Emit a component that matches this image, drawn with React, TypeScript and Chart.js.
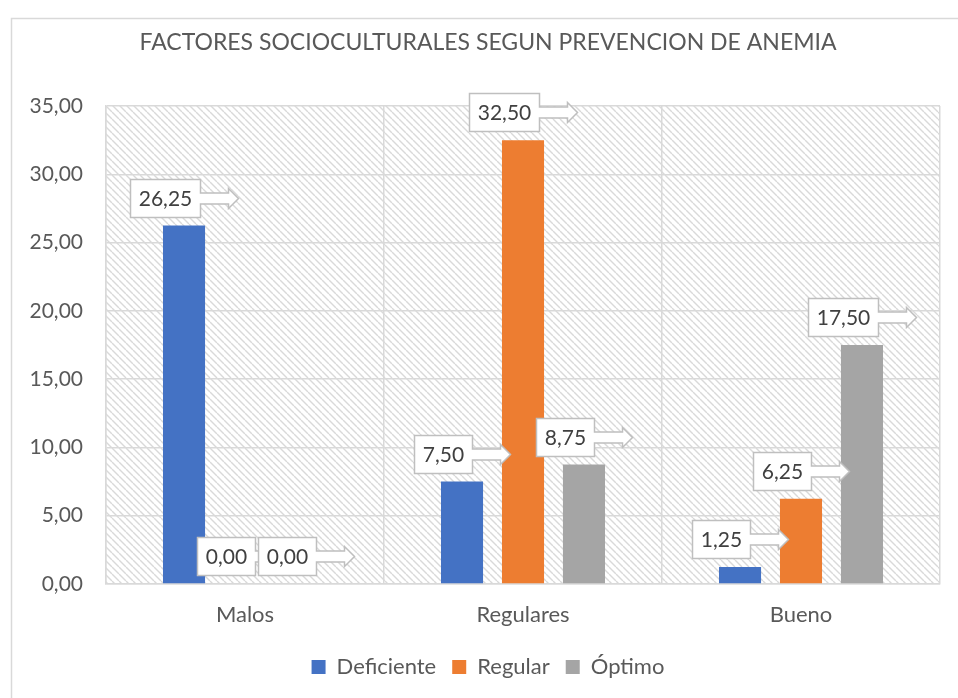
import React, { useEffect, useRef } from "react";
import { Chart, registerables } from "chart.js";

Chart.register(...registerables);

const categories = ["Malos", "Regulares", "Bueno"];
const seriesNames = ["Deficiente", "Regular", "Óptimo"];
const deficiente = [26.25, 7.5, 1.25];
const regular = [0, 32.5, 6.25];
const optimo = [0, 8.75, 17.5];
const seriesColors = ["#4472C4", "#ED7D31", "#A5A5A5"];
const yMin = 0;
const yMax = 35;
const yStep = 5;
const titleText = "FACTORES SOCIOCULTURALES SEGUN PREVENCION DE ANEMIA";

const FONT = "Lato, 'Noto Sans', sans-serif";
const TEXT_COLOR = "#595959";
const GRID_COLOR = "#d9d9d9";

const fmt = (v: number) => Number(v).toFixed(2).replace(".", ",");

function makePattern(ctx: CanvasRenderingContext2D) {
  const s = 7;
  const c = document.createElement("canvas");
  c.width = s;
  c.height = s;
  const p = c.getContext("2d")!;
  p.fillStyle = "#ffffff";
  p.fillRect(0, 0, s, s);
  p.strokeStyle = "#d9d9d9";
  p.lineWidth = 1.4;
  for (const k of [-s, 0, s]) {
    p.beginPath();
    p.moveTo(k, 0);
    p.lineTo(k + s, s);
    p.stroke();
  }
  return ctx.createPattern(c, "repeat");
}

const backgroundPlugin = {
  id: "excelBackground",
  beforeDraw(chart: any) {
    const { ctx, chartArea } = chart;
    ctx.save();
    ctx.fillStyle = "#ffffff";
    ctx.fillRect(0, 0, chart.width, chart.height);
    // outer chart border (left and top visible)
    ctx.strokeStyle = GRID_COLOR;
    ctx.lineWidth = 1.5;
    ctx.beginPath();
    ctx.moveTo(11.5, chart.height + 2);
    ctx.lineTo(11.5, 18.5);
    ctx.lineTo(chart.width + 2, 18.5);
    ctx.stroke();
    const pat = makePattern(ctx);
    if (pat) {
      ctx.fillStyle = pat;
      ctx.fillRect(
        chartArea.left,
        chartArea.top,
        chartArea.right - chartArea.left,
        chartArea.bottom - chartArea.top
      );
    }
    ctx.restore();
  },
};

const calloutPlugin = {
  id: "calloutLabels",
  afterDatasetsDraw(chart: any) {
    const { ctx } = chart;
    ctx.save();
    ctx.font = `21px ${FONT}`;
    const nCat = chart.data.labels.length;
    for (let i = 0; i < nCat; i++) {
      chart.data.datasets.forEach((ds: any, d: number) => {
        const meta = chart.getDatasetMeta(d);
        const el = meta.data[i];
        if (!el) return;
        const text = fmt(ds.data[i]);
        const tw = ctx.measureText(text).width;
        const bw = Math.round(tw + 17);
        const bh = 38;
        const shaftLen = 28;
        const headLen = 10;
        const arrowLen = shaftLen + headLen;
        const left = Math.round(el.x - (bw + arrowLen) / 2) + 0.5;
        const bottom = Math.round(el.y - 9) + 0.5;
        const top = bottom - bh;
        const cy = top + bh / 2;
        const right = left + bw;
        ctx.beginPath();
        ctx.moveTo(left, top);
        ctx.lineTo(right, top);
        ctx.lineTo(right, cy - 5.5);
        ctx.lineTo(right + shaftLen, cy - 5.5);
        ctx.lineTo(right + shaftLen, cy - 10);
        ctx.lineTo(right + arrowLen, cy);
        ctx.lineTo(right + shaftLen, cy + 10);
        ctx.lineTo(right + shaftLen, cy + 5.5);
        ctx.lineTo(right, cy + 5.5);
        ctx.lineTo(right, bottom);
        ctx.lineTo(left, bottom);
        ctx.closePath();
        ctx.fillStyle = "#ffffff";
        ctx.fill();
        ctx.strokeStyle = "#bfbfbf";
        ctx.lineWidth = 1.5;
        ctx.stroke();
        ctx.fillStyle = "#404040";
        ctx.textAlign = "center";
        ctx.textBaseline = "middle";
        ctx.fillText(text, left + bw / 2, cy + 1);
      });
    }
    ctx.restore();
  },
};

export default function App() {
  const ref = useRef<HTMLCanvasElement | null>(null);

  useEffect(() => {
    if (!ref.current) return;
    const seriesData = [deficiente, regular, optimo];
    const chart = new Chart(ref.current, {
      type: "bar",
      data: {
        labels: categories,
        datasets: seriesNames.map((name, i) => ({
          label: name,
          data: seriesData[i],
          backgroundColor: seriesColors[i],
          borderWidth: 0,
          categoryPercentage: 0.658,
          barPercentage: 0.69,
          yAxisID: "y",
        })),
      },
      options: {
        responsive: false,
        animation: false,
        layout: { padding: { left: 18, right: 0, top: 0, bottom: 10 } },
        plugins: {
          title: {
            display: true,
            text: titleText,
            color: TEXT_COLOR,
            font: { family: FONT, size: 23, weight: "normal" },
            padding: { top: 29.2, bottom: 49.2 },
          },
          legend: {
            position: "bottom",
            labels: {
              color: TEXT_COLOR,
              font: { family: FONT, size: 22 },
              boxWidth: 14,
              boxHeight: 14,
              padding: 16,
            },
          },
          tooltip: { enabled: false },
        },
        scales: {
          x: {
            grid: { color: GRID_COLOR, drawTicks: false, offset: true, lineWidth: 1.5 },
            border: { color: GRID_COLOR, width: 1.5 },
            ticks: { color: TEXT_COLOR, font: { family: FONT, size: 22 }, padding: 18 },
            afterFit: (s: any) => {
              s.height = 56;
            },
          },
          y: {
            position: "left",
            min: yMin,
            max: yMax,
            grid: { color: GRID_COLOR, drawTicks: false, lineWidth: 1.5 },
            border: { color: GRID_COLOR, width: 1.5 },
            ticks: {
              stepSize: yStep,
              color: TEXT_COLOR,
              font: { family: FONT, size: 21 },
              padding: 23,
              callback: (v: any) => fmt(v),
            },
            afterFit: (s: any) => {
              s.width = 88;
            },
          },
          yRightSpace: {
            position: "right",
            display: true,
            grid: { display: false, drawTicks: false },
            border: { display: false },
            ticks: { display: false },
            afterFit: (s: any) => {
              s.width = 18;
            },
          },
        },
      },
      plugins: [backgroundPlugin, calloutPlugin],
    } as any);
    return () => chart.destroy();
  }, []);

  return (
    <div style={{ position: "fixed", left: 0, top: 0, width: 958, height: 698 }}>
      <canvas ref={ref} width={958} height={698} style={{ display: "block" }} />
    </div>
  );
}
